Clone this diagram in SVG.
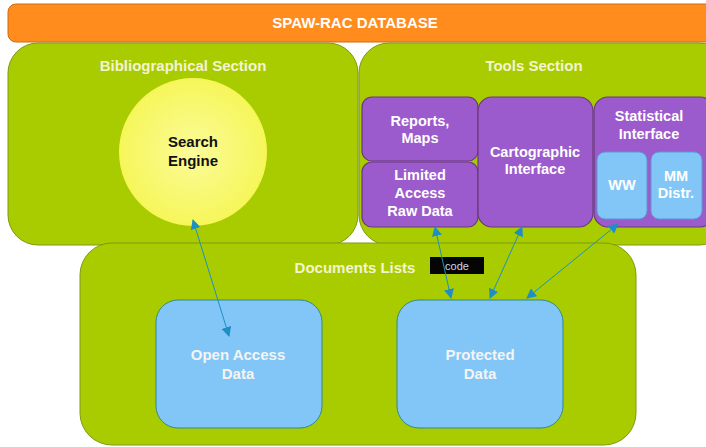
<svg xmlns="http://www.w3.org/2000/svg" width="706" height="447" viewBox="0 0 706 447">
<defs>
<style>
.green{fill:#a9cc00;stroke:#7c9a10;stroke-width:1}
.purple{fill:#9b5bcc;stroke:#6b3a7a;stroke-width:1.2}
.blue{fill:#82c6f7;stroke:#2d8a8a;stroke-width:1}
.t{font-family:"Liberation Sans",Arial,sans-serif;font-weight:bold;text-anchor:middle}
.title{fill:#f4f4d0;font-size:15px}
.w{fill:#ffffff;font-size:14.5px}
.lw{fill:#f4f4f4;font-size:15px}
.conn{stroke:#1e8fc4;stroke-width:1;fill:none;marker-start:url(#a);marker-end:url(#a)}
</style>
<marker id="a" viewBox="0 0 10 10" refX="9" refY="5" markerWidth="10" markerHeight="10" markerUnits="userSpaceOnUse" orient="auto-start-reverse">
<path d="M0,0 L10,5 L0,10 Z" fill="#1e8fc4"/>
</marker>
<radialGradient id="yg" cx="0.5" cy="0.5" r="0.5">
<stop offset="0" stop-color="#fbfb9a"/>
<stop offset="1" stop-color="#f6f65a"/>
</radialGradient>
</defs>
<rect width="706" height="447" fill="#ffffff"/>
<g id="database">
<rect x="8" y="4" width="716" height="38" rx="8" fill="#ff8c1c" stroke="#d06a10" stroke-width="1"/>
<text class="t" x="355" y="28" fill="#ffffff" font-size="15">SPAW-RAC DATABASE</text>
</g>
<g id="bibliographical">
<rect class="green" x="8" y="43" width="350" height="202" rx="30"/>
<text class="t title" x="183" y="71">Bibliographical Section</text>
</g>
<g id="search-engine">
<circle cx="193" cy="152" r="74" fill="url(#yg)"/>
<text class="t" x="193" y="147" fill="#111111" font-size="15">Search</text>
<text class="t" x="193" y="166" fill="#111111" font-size="15">Engine</text>
</g>
<g id="tools">
<rect class="green" x="359" y="43" width="370" height="202" rx="30"/>
<text class="t title" x="534" y="71">Tools Section</text>
</g>
<g id="reports-maps">
<rect class="purple" x="362" y="97" width="116" height="64" rx="10"/>
<text class="t w" x="420" y="126">Reports,</text>
<text class="t w" x="420" y="143">Maps</text>
</g>
<g id="limited-access">
<rect class="purple" x="362" y="162" width="116" height="65" rx="10"/>
<text class="t w" x="420" y="180">Limited</text>
<text class="t w" x="420" y="198">Access</text>
<text class="t w" x="420" y="216">Raw Data</text>
</g>
<g id="cartographic">
<rect class="purple" x="478" y="97" width="115" height="130" rx="14"/>
<text class="t w" x="535" y="157">Cartographic</text>
<text class="t w" x="535" y="174">Interface</text>
</g>
<g id="statistical">
<rect class="purple" x="594" y="97" width="120" height="130" rx="14"/>
<text class="t w" x="649" y="121">Statistical</text>
<text class="t w" x="649" y="139">Interface</text>
</g>
<g id="ww">
<rect x="597" y="152" width="50" height="67" rx="8" fill="#82c6f7" stroke="#5a9ad0" stroke-width="1"/>
<text class="t w" x="622" y="190">WW</text>
</g>
<g id="mm-distr">
<rect x="651" y="152" width="51" height="67" rx="8" fill="#82c6f7" stroke="#5a9ad0" stroke-width="1"/>
<text class="t w" x="676" y="181">MM</text>
<text class="t w" x="676" y="198">Distr.</text>
</g>
<g id="documents-lists">
<rect class="green" x="80" y="243" width="556" height="202" rx="32"/>
<text class="t title" x="355" y="273">Documents Lists</text>
</g>
<g id="code-label">
<rect x="430" y="257" width="54" height="17" fill="#050505"/>
<text x="457" y="270" font-family="Liberation Sans,Arial,sans-serif" font-size="11" fill="#c8d8f0" text-anchor="middle">code</text>
</g>
<g id="open-access">
<rect class="blue" x="156" y="300" width="166" height="128" rx="22"/>
<text class="t lw" x="238" y="360">Open Access</text>
<text class="t lw" x="238" y="379">Data</text>
</g>
<g id="protected">
<rect class="blue" x="397" y="300" width="166" height="128" rx="22"/>
<text class="t lw" x="480" y="360">Protected</text>
<text class="t lw" x="480" y="379">Data</text>
</g>
<g id="connectors">
<line class="conn" x1="193" y1="220" x2="229" y2="336"/>
<line class="conn" x1="435" y1="227" x2="451" y2="298"/>
<line class="conn" x1="522" y1="227" x2="490" y2="298"/>
<line class="conn" x1="618" y1="224" x2="527" y2="298"/>
</g>
</svg>
